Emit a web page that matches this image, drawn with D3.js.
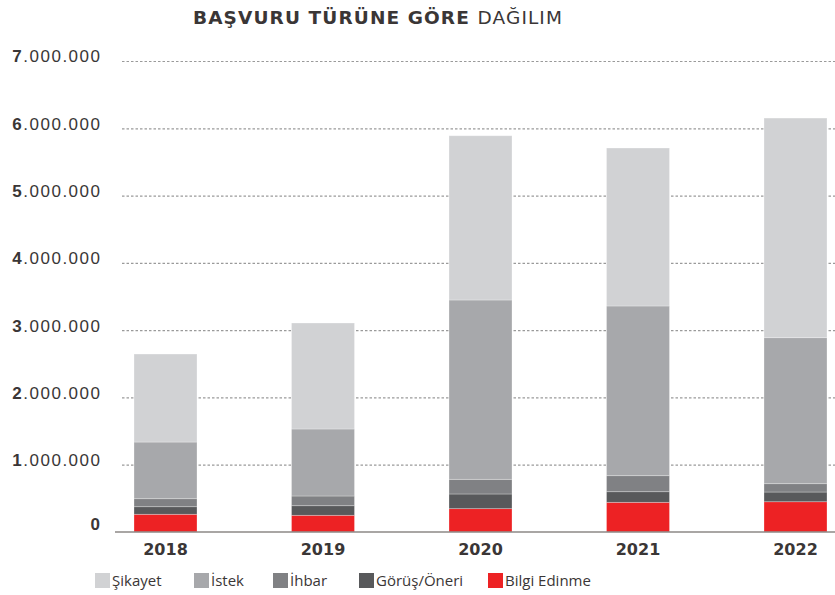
<!DOCTYPE html>
<html lang="tr">
<head>
<meta charset="utf-8">
<title>Başvuru Türüne Göre Dağılım</title>
<script src="https://d3js.org/d3.v7.min.js"></script>
<style>
  body { margin: 0; background: #fff; }
  svg { display: block; font-family: "DejaVu Sans", sans-serif; }
  .grid .tick line { stroke: #9a9a9a; stroke-dasharray: 2.5,2; stroke-width: 1.2; }
  .grid path.domain { display: none; }
  .grid text { font-size: 17px; letter-spacing: 1.5px; fill: #3a3636; }
  .xlab text { font-size: 16px; font-weight: bold; fill: #3a3636; }
  .legend text { font-family: "Open Sans", sans-serif; font-size: 15px; fill: #3a3636; }
</style>
</head>
<body>
<script>
// data
const years = ["2018", "2019", "2020", "2021", "2022"];
const seriesNames = ["Bilgi Edinme", "Görüş/Öneri", "İhbar", "İstek", "Şikayet"];
const bilgiEdinme = [263000, 248000, 347000, 441000, 450000];
const gorusOneri  = [113000, 143000, 218000, 158000, 144000];
const ihbar       = [119000, 144000, 218000, 238000, 124000];
const istek       = [842000, 996000, 2665000, 2522000, 2170000];
const sikayet     = [1308000, 1575000, 2441000, 2348000, 3264000];
const yTicks = [0, 1000000, 2000000, 3000000, 4000000, 5000000, 6000000, 7000000];
const legendOrder = ["Şikayet", "İstek", "İhbar", "Görüş/Öneri", "Bilgi Edinme"];

const colors = {
  "Şikayet": "#d1d2d4",
  "İstek": "#a7a8ab",
  "İhbar": "#808184",
  "Görüş/Öneri": "#58595b",
  "Bilgi Edinme": "#ed2224"
};

const width = 835, height = 595;
const plot = { left: 122, right: 835, top: 61, bottom: 532 };

const rows = years.map((y, i) => ({
  year: y,
  "Bilgi Edinme": bilgiEdinme[i],
  "Görüş/Öneri": gorusOneri[i],
  "İhbar": ihbar[i],
  "İstek": istek[i],
  "Şikayet": sikayet[i]
}));

const stacked = d3.stack().keys(seriesNames)(rows);

const svg = d3.select("body").append("svg")
  .attr("width", width).attr("height", height);

const x = d3.scaleBand()
  .domain(years)
  .range([134, 827])
  .paddingInner(0.6)
  .paddingOuter(0);

const y = d3.scaleLinear()
  .domain([0, 7000000])
  .range([plot.bottom, plot.top]);

// number format with "." thousands
const tr = d3.formatLocale({ decimal: ",", thousands: ".", grouping: [3], currency: ["", " TL"] });
const fmt = tr.format(",");

// title
const title = svg.append("text")
  .attr("x", 193).attr("y", 24)
  .style("font-size", "18.5px").style("letter-spacing", "1.1px").style("fill", "#3a3636");
title.append("tspan").attr("font-weight", "bold").text("BAŞVURU TÜRÜNE GÖRE ");
title.append("tspan").text("DAĞILIM");

// grid + y labels
const grid = svg.append("g").attr("class", "grid")
  .attr("transform", `translate(${plot.left},0)`)
  .call(d3.axisLeft(y).tickValues(yTicks)
    .tickSize(-(plot.right - plot.left)).tickPadding(20.5).tickFormat(fmt));

grid.selectAll(".tick").filter(d => d === 0).select("line").remove();
grid.selectAll(".tick text").each(function (d) {
  const s = fmt(d);
  const dot = s.indexOf(".");
  const t = d3.select(this).text(null).attr("dy", "0.05em");
  if (dot < 0) {
    t.append("tspan").attr("font-weight", "bold").text(s);
  } else {
    t.append("tspan").attr("font-weight", "bold").text(s.slice(0, dot));
    t.append("tspan").text(s.slice(dot));
  }
});
grid.selectAll(".tick").filter(d => d === 0).select("text").attr("dy", "-0.15em");

// bars
svg.append("g").selectAll("g")
  .data(stacked)
  .join("g")
  .attr("fill", d => colors[d.key])
  .selectAll("rect")
  .data(d => d)
  .join("rect")
  .attr("x", d => x(d.data.year))
  .attr("y", d => y(d[1]))
  .attr("width", x.bandwidth())
  .attr("height", d => y(d[0]) - y(d[1]))
  .attr("stroke", "#ffffff")
  .attr("stroke-opacity", 0.35)
  .attr("stroke-width", 0.8);

// baseline
svg.append("line")
  .attr("x1", 115).attr("x2", plot.right)
  .attr("y1", y(0)).attr("y2", y(0))
  .attr("stroke", "#8c8886").attr("stroke-width", 1.6);

// x labels
svg.append("g").attr("class", "xlab")
  .selectAll("text")
  .data(years)
  .join("text")
  .attr("x", d => x(d) + x.bandwidth() / 2)
  .attr("y", 555)
  .attr("text-anchor", "middle")
  .text(d => d);

// legend
const legendX = [95, 194, 273, 359, 488];
const lg = svg.append("g").attr("class", "legend")
  .selectAll("g")
  .data(legendOrder)
  .join("g")
  .attr("transform", (d, i) => `translate(${legendX[i]},573)`);
lg.append("rect").attr("width", 15).attr("height", 15).attr("fill", d => colors[d]);
lg.append("text").attr("x", 17).attr("y", 13).text(d => d);
</script>
</body>
</html>
